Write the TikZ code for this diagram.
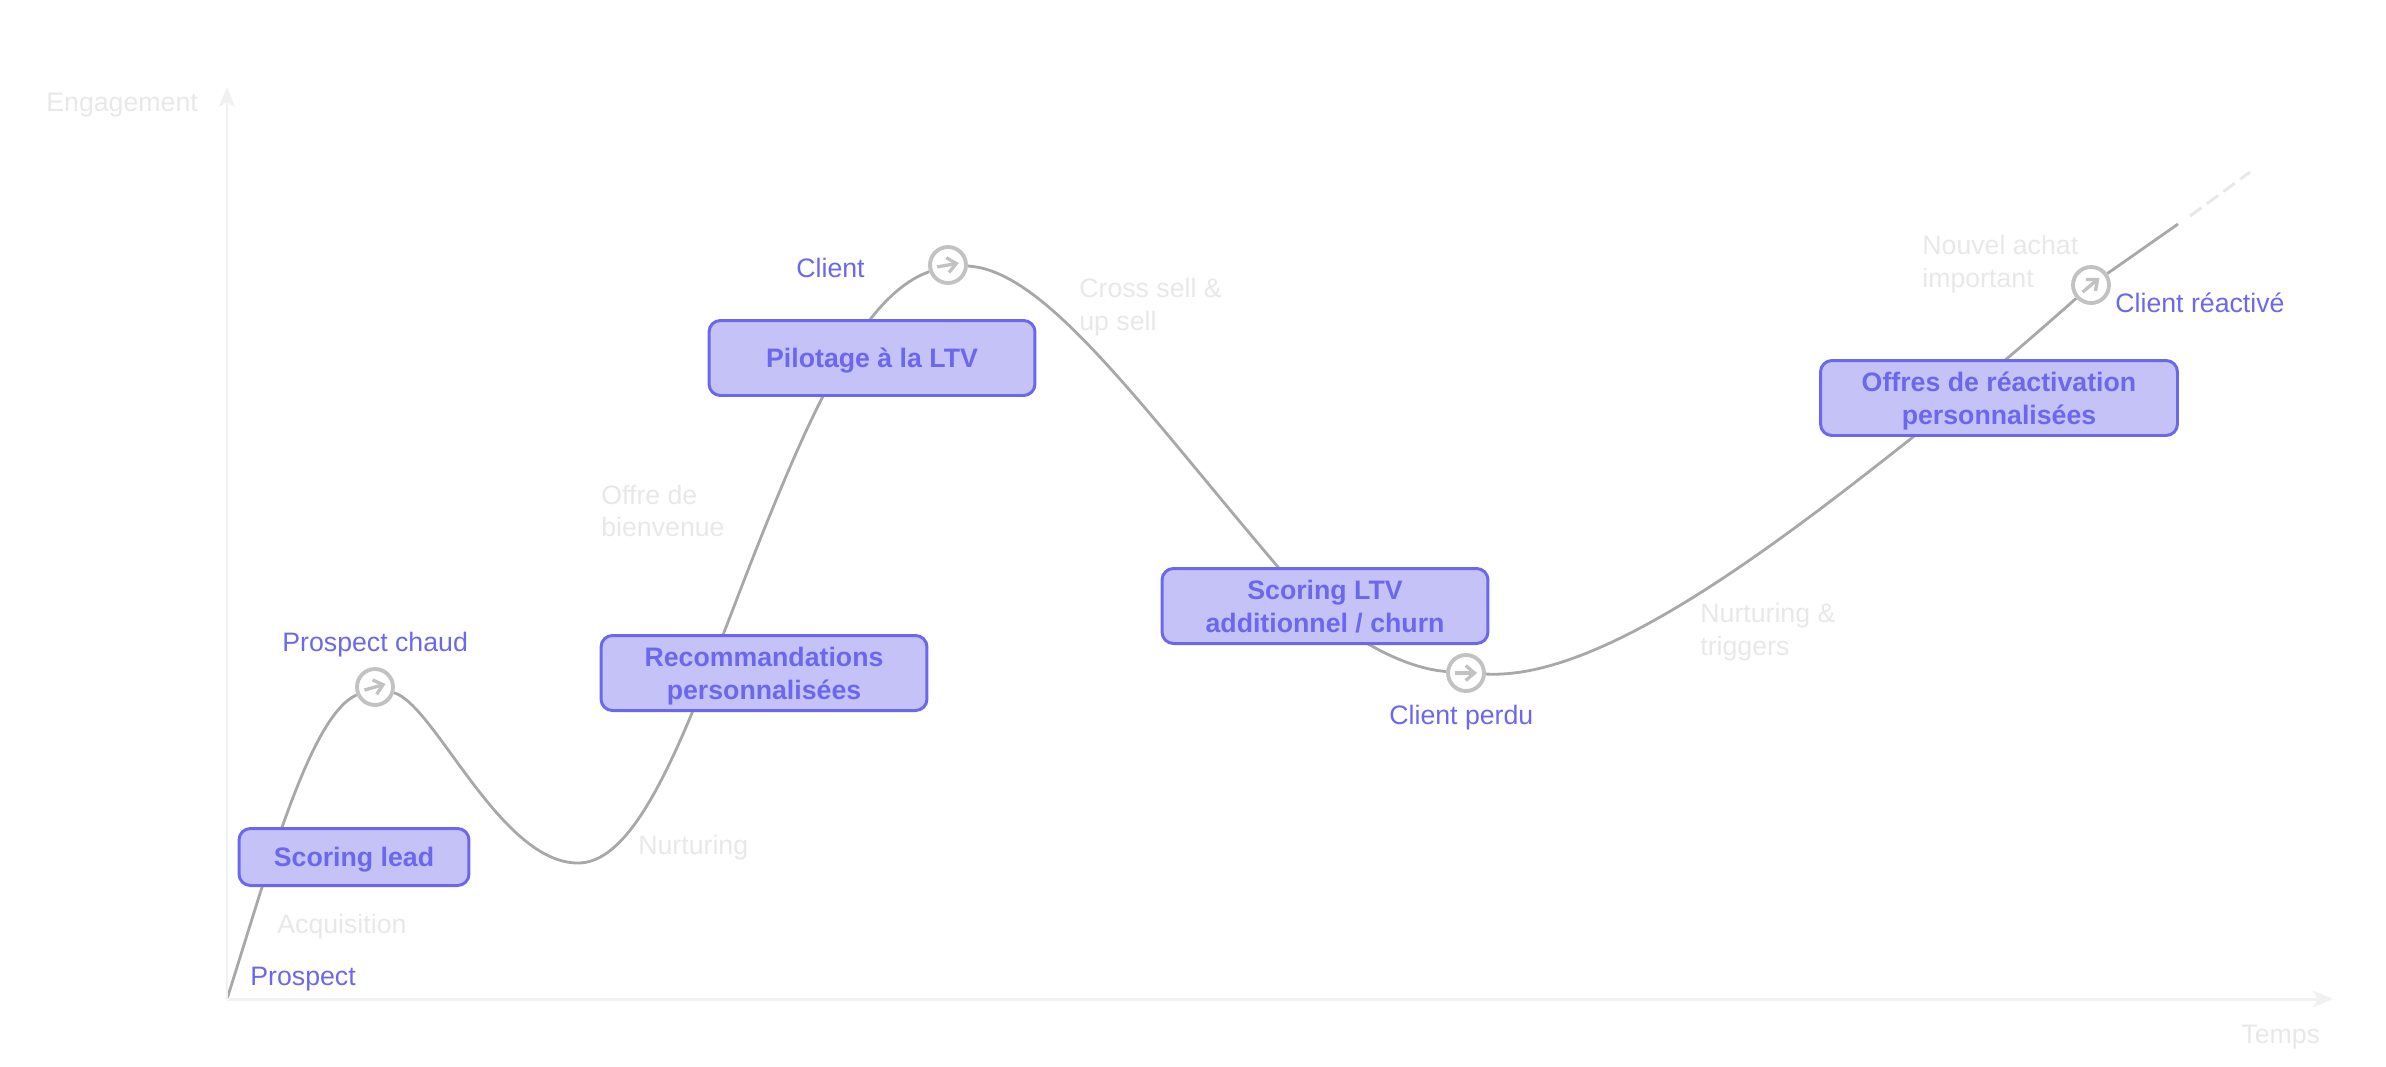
\documentclass[tikz,border=0pt]{standalone}
\usepackage{fontspec}
\setmainfont{Liberation Sans}
\usetikzlibrary{arrows.meta,calc,backgrounds}
\definecolor{stepviolet}{HTML}{6C68EE}
\definecolor{stepfill}{HTML}{C4C2F7}
\definecolor{softgray}{HTML}{E8E8E8}
\definecolor{axisgray}{HTML}{F1F1F1}
\definecolor{curvegray}{HTML}{A8A8A8}
\definecolor{markgray}{HTML}{C2C2C2}

\begin{document}
\begin{tikzpicture}[x=0.02cm, y=-0.02cm,
    stepbox/.style={draw=stepviolet, fill=stepfill, line width=1.7pt, rounded corners=6.5pt, inner sep=0pt, minimum width=6.52cm, minimum height=1.5cm, align=center, text depth=0pt, text=stepviolet, font=\fontsize{15.2}{18.6}\selectfont\bfseries},
    statelabel/.style={anchor=west, inner sep=0pt, text=stepviolet, font=\fontsize{15.2}{18.6}\selectfont},
    softlabel/.style={anchor=west, inner sep=0pt, align=left, text=softgray, font=\fontsize{15.2}{18.6}\selectfont},
    statemark/.style={draw=markgray, fill=white, circle, line width=2.2pt, inner sep=0pt, minimum size=0.72cm},
    curve/.style={draw=curvegray, line width=1.6pt},
    axis/.style={draw=axisgray, line width=1.7pt, -{Stealth[length=11.5pt,width=9.5pt,inset=3pt]}},
    icon/.style={draw=markgray, line width=1.9pt, -{Straight Barb[length=5pt,width=8.5pt]}}]
    \useasboundingbox (0,0) rectangle (2386,1066);
    % Axes
    \coordinate (origin) at (227,999);
    \coordinate (yend) at (227,87);
    \coordinate (xend) at (2333,999);
    \draw[axis] (origin) -- (yend);
    \draw[axis] (origin) -- (xend);
    \node[softlabel] (engagement) at (46,105) {Engagement};
    \node[softlabel] (temps) at (2241,1037) {Temps};
    % Steps
    \node[stepbox, minimum width=4.6cm, minimum height=1.14cm] (scoringlead) at (354,857) {Scoring lead};
    \node[stepbox] (reco) at (764,673) {Recommandations\\personnalisées};
    \node[stepbox] (pilotage) at (872,358) {Pilotage à la LTV};
    \node[stepbox] (scoringltv) at (1325,606) {Scoring LTV\\additionnel / churn};
    \node[stepbox, minimum width=7.14cm] (offres) at (1999,398) {Offres de réactivation\\personnalisées};
    % Marks on the curve
    \node[statemark] (hot) at (375,687) {};
    \node[statemark] (client) at (948,265) {};
    \node[statemark] (lost) at (1466,673) {};
    \node[statemark] (react) at (2091,285) {};
    \foreach \name/\ang in {hot/-16,client/-10,lost/0,react/-40}
        \draw[icon] ($(\name)+(\ang+180:11)$) -- ($(\name)+(\ang:11)$);
    % States
    \node[statelabel] (prospect) at (250,979) {Prospect};
    \node[statelabel] (prospectchaud) at (282,645) {Prospect chaud};
    \node[statelabel] (clientlabel) at (796,268) {Client};
    \node[statelabel] (perdu) at (1389,718) {Client perdu};
    \node[statelabel] (reactive) at (2115,303) {Client réactivé};
    % Phases
    \node[softlabel] (acquisition) at (277,927) {Acquisition};
    \node[softlabel] (nurturing) at (638,848) {Nurturing};
    \node[softlabel] (bienvenue) at (601,511) {Offre de\\bienvenue};
    \node[softlabel] (crosssell) at (1079,307) {Cross sell \&\\up sell};
    \node[softlabel] (triggers) at (1700,632) {Nurturing \&\\triggers};
    \node[softlabel] (nouvel) at (1922,264) {Nouvel achat\\important};
    % Curve
    \coordinate (dip) at (578,863);
    \coordinate (rise) at (772,510);
    \coordinate (fall) at (1278,567);
    \coordinate (climb) at (1913,437);
    \coordinate (curveend) at (2178,224);
    \coordinate (dashstart) at (2190,216);
    \coordinate (dashend) at (2250,172);
    \begin{scope}[on background layer]
        \draw[curve] (origin) .. controls (268,870) and (310,715) .. (hot);
        \draw[curve] (hot) .. controls (435,705) and (500,863) .. (dip);
        \draw[curve] (dip) .. controls (650,863) and (702,680) .. (rise);
        \draw[curve] (rise) .. controls (825,380) and (872,292) .. (client);
        \draw[curve] (client) .. controls (1045,270) and (1140,405) .. (fall);
        \draw[curve] (fall) .. controls (1333,632) and (1400,668) .. (lost);
        \draw[curve] (lost) .. controls (1600,680) and (1770,550) .. (climb);
        \draw[curve] (climb) .. controls (1965,395) and (2035,335) .. (react);
        \draw[curve] (react) -- (curveend);
        \draw[draw=softgray, line width=1.7pt, dash pattern=on 8pt off 3.8pt] (dashstart) -- (dashend);
    \end{scope}
\end{tikzpicture}
\end{document}
